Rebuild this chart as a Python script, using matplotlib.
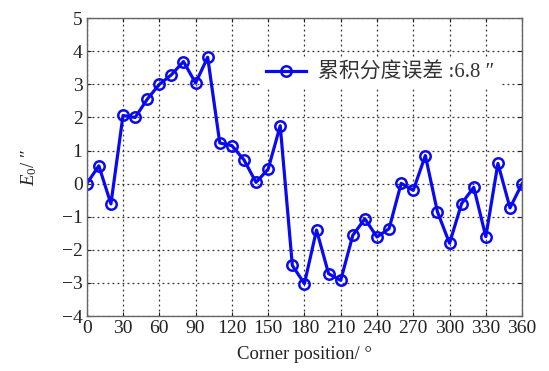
import numpy as np
import matplotlib.pyplot as plt

plt.rcParams['font.family'] = ['Liberation Serif', 'Noto Sans CJK SC', 'DejaVu Sans']
plt.rcParams['mathtext.fontset'] = 'custom'
plt.rcParams['mathtext.rm'] = 'Liberation Serif'
plt.rcParams['mathtext.it'] = 'Liberation Serif:italic'

# corner position (deg) and cumulative indexing error (arcsec)
angle = list(range(0, 361, 10))
error = [0.0, 0.54, -0.61, 2.06, 2.0, 2.55, 3.0, 3.29, 3.69, 3.04,
         3.82, 1.23, 1.15, 0.72, 0.04, 0.44, 1.75, -2.47, -3.02, -1.4,
         -2.72, -2.92, -1.56, -1.06, -1.61, -1.36, 0.01, -0.2, 0.85, -0.85,
         -1.8, -0.6, -0.11, -1.6, 0.61, -0.73, 0.0]
legend_label = '累积分度误差 :6.8 ″'
xticks = list(range(0, 361, 30))
yticks = list(range(-4, 6))

fig = plt.figure(figsize=(5.49, 3.71), dpi=100)
ax = fig.add_axes([0.158, 0.148, 0.793, 0.803])

ax.plot(angle, error, color='#0a0af0', linewidth=2.3, marker='o',
        markersize=7.5, markerfacecolor='none', markeredgewidth=1.8,
        label=legend_label)

ax.set_xlim(0, 360)
ax.set_ylim(-4, 5)
ax.set_xticks(xticks)
ax.set_yticks(yticks)
ax.tick_params(direction='in', length=3, labelsize=14, top=True, right=True,
               colors='#222222', pad=3)
ax.grid(True, linestyle=(0, (1.5, 2.5)), color='#333333', linewidth=0.9)
for s in ax.spines.values():
    s.set_color('#666666')
    s.set_linewidth(1.0)

ax.set_xlabel('Corner position/ °', fontsize=13.5, color='#222222', labelpad=6)
ax.set_ylabel(r'$E_0$/ ″', fontsize=13.5, color='#222222', labelpad=16)

leg = ax.legend(loc='upper right', bbox_to_anchor=(0.975, 0.905), fontsize=15,
                frameon=True, handlelength=1.9, handletextpad=0.6, borderpad=0.3)
leg.get_frame().set_edgecolor('none')
leg.get_frame().set_facecolor('white')
leg.get_frame().set_alpha(1.0)
for t in leg.get_texts():
    t.set_color('#333333')

fig.savefig('out.png', dpi=100)
